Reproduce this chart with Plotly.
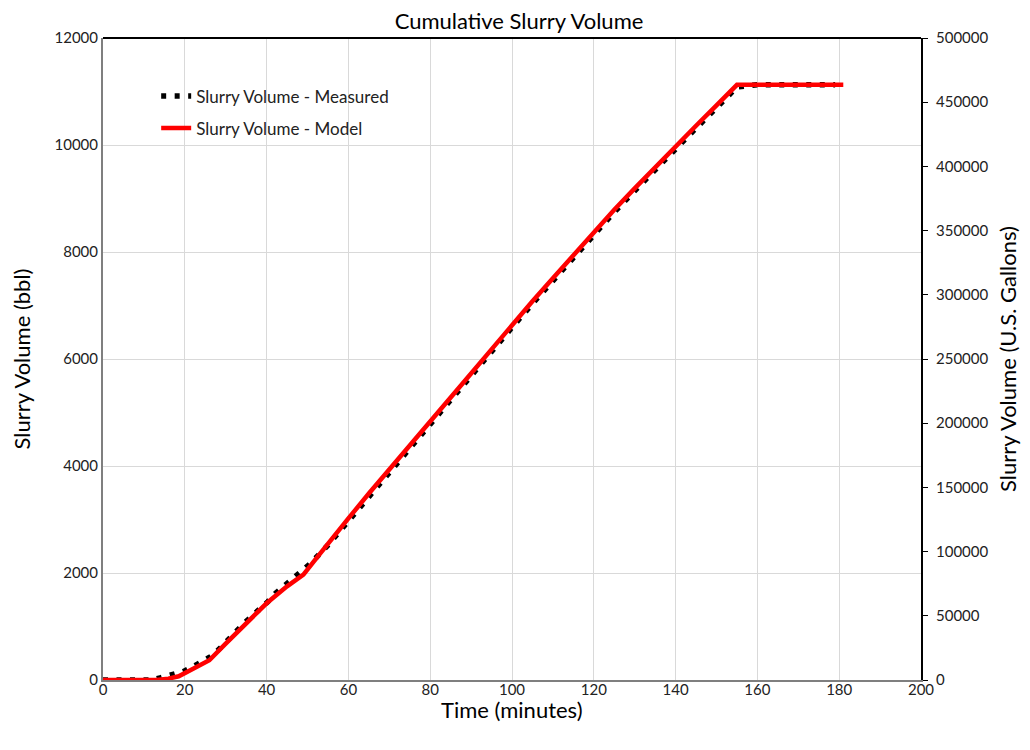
import plotly.graph_objects as go

# Model (red line): time in minutes, cumulative slurry volume in bbl
model_t = [0, 13, 16, 18.5, 21, 26, 30, 35, 40, 45, 49, 52, 56, 60, 65, 70, 75, 80, 85, 90,
           95, 100, 105, 110, 115, 120, 125, 130, 135, 140, 145, 150, 155, 160, 170, 181]
model_v = [0, 0, 25, 70, 170, 370, 680, 1060, 1434, 1750, 1970, 2260, 2650, 3020, 3485, 3940,
           4380, 4830, 5280, 5730, 6180, 6636, 7080, 7510, 7940, 8380, 8790, 9190, 9590, 9981,
           10360, 10740, 11125, 11125, 11125, 11125]

# Measured (dotted black line)
meas_t = [0, 12, 14, 17, 19.6, 22, 24.4, 26.3, 28.6, 30.4, 32.5, 34.5, 36.5, 38.4, 40.3, 42.2,
          44.3, 46.5, 48.6, 50.6, 55, 60, 65, 70, 75, 80, 85, 90, 95, 100, 105, 110, 115, 120,
          125, 130, 135, 140, 145, 150, 155, 160, 170, 179]
meas_v = [0, 0, 40, 95, 156, 250, 343, 436, 592, 748, 903, 1059, 1196, 1321, 1464, 1620,
          1757, 1882, 2024, 2168, 2520, 2975, 3440, 3895, 4335, 4785, 5235, 5685, 6135, 6590,
          7035, 7465, 7895, 8335, 8745, 9145, 9545, 9935, 10315, 10695, 11085, 11125, 11125, 11125]

x_ticks = [0, 20, 40, 60, 80, 100, 120, 140, 160, 180, 200]
y_ticks = [0, 2000, 4000, 6000, 8000, 10000, 12000]
y2_ticks = [0, 50000, 100000, 150000, 200000, 250000, 300000, 350000, 400000, 450000, 500000]

FONT = "Lato, 'Open Sans', 'Liberation Sans', sans-serif"
TXT = "#222222"

fig = go.Figure()
fig.add_trace(go.Scatter(
    x=meas_t, y=meas_v, mode="lines", name="Slurry Volume - Measured",
    legendgroup="m", line=dict(color="black", width=5.5, dash="5px,8.5px"),
))
fig.add_trace(go.Scatter(
    x=model_t, y=model_v, mode="lines", name="Slurry Volume - Model",
    legendgroup="r", line=dict(color="#ff0000", width=4.5),
))
# invisible trace to bind the secondary (gallons) axis
fig.add_trace(go.Scatter(
    x=[0], y=[0], yaxis="y2", mode="markers", marker=dict(opacity=0),
    showlegend=False, hoverinfo="skip",
))

fig.update_layout(
    width=1022, height=742,
    margin=dict(l=95, r=109, t=30, b=70, autoexpand=False),
    paper_bgcolor="white", plot_bgcolor="white",
    font=dict(family=FONT, color=TXT, size=15),
    title=dict(text="Cumulative Slurry Volume", x=0.5, xanchor="center", y=0.9825, yanchor="middle",
               font=dict(size=22, color="black", family=FONT)),
    xaxis=dict(
        range=[0, 200], tickvals=x_ticks, ticktext=[str(v) for v in x_ticks],
        showgrid=True, gridcolor="#d9d9d9", gridwidth=1, automargin=False,
        showline=True, linecolor="#7f7f7f", linewidth=2, ticks="", zeroline=False,
        ticklabelstandoff=-5,
        tickfont=dict(size=15, color=TXT),
    ),
    yaxis=dict(
        range=[0, 12000], tickvals=y_ticks, ticktext=[str(v) for v in y_ticks],
        showgrid=True, gridcolor="#d9d9d9", gridwidth=1, automargin=False,
        showline=True, linecolor="#7f7f7f", linewidth=2, ticks="", zeroline=False,
        title=dict(text="Slurry Volume (bbl)", font=dict(size=22, color="black"), standoff=32),
        tickfont=dict(size=15, color=TXT),
    ),
    yaxis2=dict(
        range=[0, 500000], tickvals=y2_ticks, ticktext=[str(v) for v in y2_ticks],
        overlaying="y", side="right", showgrid=False, automargin=False,
        showline=True, linecolor="black", linewidth=2, ticks="outside", ticklen=5,
        tickcolor="black", zeroline=False, ticklabelstandoff=5,
        title=dict(text="Slurry Volume (U.S. Gallons)", font=dict(size=22, color="black"), standoff=13),
        tickfont=dict(size=15, color=TXT),
    ),
    legend=dict(
        x=0.065, y=0.937, xanchor="left", yanchor="top", bgcolor="rgba(0,0,0,0)",
        font=dict(size=17, color=TXT), tracegroupgap=7,
    ),
    annotations=[dict(text="Time (minutes)", xref="paper", yref="paper", x=0.5, y=0,
                      xanchor="center", yanchor="middle", yshift=-29, showarrow=False,
                      font=dict(size=22, color="black", family=FONT))],
    shapes=[dict(type="line", xref="paper", yref="paper", x0=0, x1=1, y0=1, y1=1,
                 line=dict(color="black", width=2))],
)

fig.write_html("out.html")
